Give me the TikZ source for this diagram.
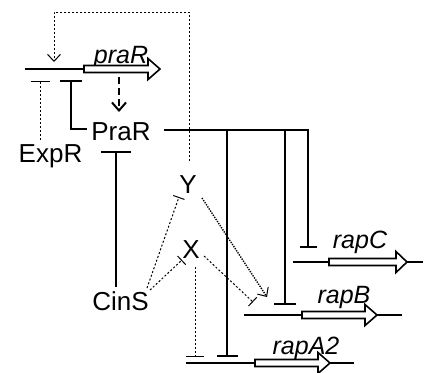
\documentclass[tikz,border=0pt]{standalone}
\usepackage{fontspec}
\setmainfont{Liberation Sans}
\usetikzlibrary{arrows.meta}
\newcommand{\gnarrow}[4]{\draw[genebox] (#1,#2-3.5) -- (#3,#2-3.5) -- (#3,#2-10.5) -- (#4,#2) -- (#3,#2+10.5) -- (#3,#2+3.5) -- (#1,#2+3.5) -- cycle;}
\begin{document}
\begin{tikzpicture}[x=1pt,y=-1pt,
  lbl/.style={font=\fontsize{26}{30}\selectfont, inner sep=0pt, anchor=base},
  glbl/.style={font=\fontsize{25}{30}\selectfont\itshape, inner sep=0pt, anchor=base},
  sline/.style={line width=2pt},
  dline/.style={line width=1pt, dash pattern=on 2pt off 2pt},
  ddline/.style={line width=1.4pt, dash pattern=on 1.3pt off 1.2pt},
  genebox/.style={line width=1.6pt, fill=white},
  actarrow/.style={-{Straight Barb[length=7pt,width=13pt,line width=1pt]}},
  inhib/.style={-{Bar[width=#1]}},
]
\useasboundingbox (0,0) rectangle (424,373);

% labels
\node[glbl] (praRg) at (121,63) {praR};
\node[lbl] (PraR) at (121,140) {PraR};
\node[lbl] (ExpR) at (50.5,162) {ExpR};
\node[lbl] (CinS) at (120.5,310) {CinS};
\node[lbl] (Y) at (188,193) {Y};
\node[lbl] (X) at (191,258) {X};
\node[glbl] (rapC) at (360,248) {rapC};
\node[glbl] (rapB) at (344,303) {rapB};
\node[glbl] (rapA2) at (306,354) {rapA2};

% genes
\coordinate (praRs) at (25,69);
\coordinate (praRb) at (84,69);
\draw[sline] (praRs) -- (praRb);
\gnarrow{84}{69}{148}{160}

\coordinate (rapCs) at (293,262);
\coordinate (rapCe) at (423,262);
\draw[sline] (rapCs) -- (rapCe);
\gnarrow{329}{262}{396}{407}

\coordinate (rapBs) at (244,315);
\coordinate (rapBe) at (402,315);
\draw[sline] (rapBs) -- (rapBe);
\gnarrow{302}{315}{365}{377}

\coordinate (rapAs) at (186,363);
\coordinate (rapAe) at (354,363);
\draw[sline] (rapAs) -- (rapAe);
\gnarrow{255}{363}{318}{330}

% connector end points
\coordinate (Ytop) at (189,161);
\coordinate (fbT) at (54,62);
\coordinate (PraRw) at (87,129);
\coordinate (praRrep) at (71,80);
\coordinate (ExpRn) at (40,140);
\coordinate (ExpRt) at (40,81);
\coordinate (praRexp) at (119,77);
\coordinate (PraRin) at (119,112);
\coordinate (CinSn) at (116,287);
\coordinate (PraRs) at (116,151);
\coordinate (PraRe) at (164,130);
\coordinate (rapCt) at (308,248);
\coordinate (rapBt) at (285,305);
\coordinate (rapAt) at (227,357);
\coordinate (b1) at (227,130);
\coordinate (b2) at (285,130);
\coordinate (CinSy) at (147,288);
\coordinate (Yin) at (179,197);
\coordinate (CinSx) at (150,290);
\coordinate (Xin) at (182,260);
\coordinate (Yout) at (202,198);
\coordinate (rapBa) at (267,297);
\coordinate (Xout) at (204,256);
\coordinate (rapBx) at (253,302);
\coordinate (Xdown) at (195,267);
\coordinate (rapAx) at (195,357);

% feedback Y -> praR
\draw[dline, actarrow] (Ytop) -- (189,12) -| (fbT);
% PraR -| praR
\draw[sline, inhib=22pt] (PraRw) -| (praRrep);
% ExpR -| praR
\draw[dline, inhib=19pt] (ExpRn) -- (ExpRt);
% praR -> PraR (expression)
\draw[line width=2pt, dash pattern=on 7pt off 4pt, -{Straight Barb[length=8pt,width=14pt,line width=2pt]}] (praRexp) -- (PraRin);
% CinS -| PraR
\draw[sline, inhib=30pt] (CinSn) -- (PraRs);
% PraR -| rap genes
\draw[sline, inhib=17pt] (PraRe) -| (rapCt);
\draw[sline, inhib=22pt] (b2) -- (rapBt);
\draw[sline, inhib=21pt] (b1) -- (rapAt);
% CinS -| Y, X
\draw[dline, inhib=12pt] (CinSy) -- (Yin);
\draw[dline, inhib=12pt] (CinSx) -- (Xin);
% Y -> rapB
\draw[ddline, actarrow] (Yout) -- (rapBa);
% X -| rapB
\draw[dline, inhib=12pt] (Xout) -- (rapBx);
% X -| rapA2
\draw[dline, inhib=18pt] (Xdown) -- (rapAx);
\end{tikzpicture}
\end{document}
